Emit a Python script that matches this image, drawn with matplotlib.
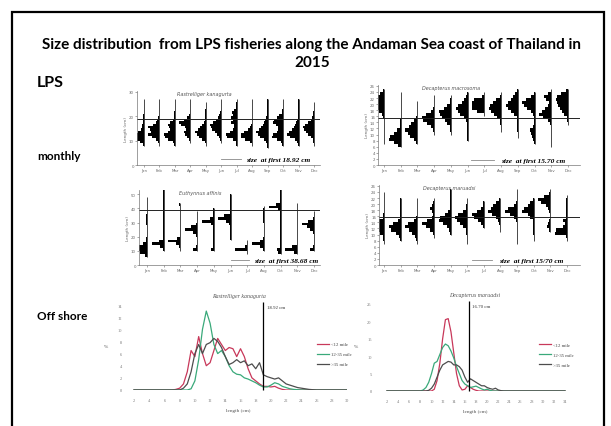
import numpy as np
import matplotlib.pyplot as plt
from matplotlib.patches import Rectangle

W, H = 611, 427
fig = plt.figure(figsize=(W / 100, H / 100), dpi=100)
fig.patch.set_facecolor('white')

months = ['Jan', 'Feb', 'Mar', 'Apr', 'May', 'Jun', 'Jul', 'Aug', 'Sep', 'Oct', 'Nov', 'Dec']
months_euth = ['Jan', 'Feb', 'Mar', 'Apr', 'May', 'Jun', 'Jul', 'Aug', 'Oct', 'Nov', 'Dec']

# monthly length frequencies (relative), Rastrelliger kanagurta, 1 cm bins from 7 cm
rk_bins = list(range(7, 27))
rk_month = [
    [0, 1, 4, 8, 10, 8, 5, 3, 2, 2, 1, 1, .5, .5, .3, .3, .2, .2, .2, .1],
    [0, .2, 1, 3, 6, 9, 7, 8, 9, 5, 3, 2, 1, .5, .5, .3, .2, .2, .2, .1],
    [0, .5, 2, 6, 9, 10, 6, 4, 5, 6, 4, 2, 1, .5, .5, .3, .3, .2, .2, .1],
    [0, 0, .5, 1, 3, 5, 6, 4, 5, 8, 10, 6, 3, 1, .5, .3, .3, .2, .2, .1],
    [0, .2, 1, 3, 6, 8, 10, 7, 5, 3, 2, 1, .5, .5, .3, .3, .2, .2, .1, 0],
    [0, 0, .5, 1, 2, 4, 6, 8, 9, 10, 7, 5, 3, 2, 1, .5, .5, .3, .2, .1],
    [0, .2, 1, 3, 9, 10, 6, 3, 2, 2, 5, 3, 5, 3, 4, 2, 1, .3, .2, .1],
    [0, .5, 2, 6, 10, 10, 7, 4, 2, 1, .5, .5, .3, .3, .2, .2, .2, .1, .1, .1],
    [.2, .5, 1, 3, 6, 8, 9, 7, 5, 4, 3, 2, 1, .5, .5, .3, .2, .2, .2, .1],
    [0, .5, 2, 5, 9, 8, 5, 4, 4, 6, 8, 7, 5, 3, 1, .5, .3, .2, .2, .1],
    [0, .2, 1, 3, 8, 10, 9, 6, 4, 3, 2, 1, .5, .3, .3, .2, .2, .2, .1, .1],
    [0, .2, .5, 1, 3, 5, 7, 9, 10, 8, 5, 3, 2, 1, .5, .3, .2, .2, .1, 0],
]

# Decapterus macrosoma, 1 cm bins from 5 cm
dm_bins = list(range(5, 25))
dm_month = [
    [0, 0, .3, .3, .3, .2, .2, .2, .2, .2, .5, 2, 4, 6, 7, 9, 10, 6, 3, 1],
    [0, 2, 6, 10, 9, 6, 3, 1, .3, .3, .2, .2, .2, .2, .2, .2, .2, .2, .1, 0],
    [0, 0, 1, 3, 6, 8, 10, 7, 5, 3, 1, .5, .3, .2, .2, .2, 0, 0, 0, 0],
    [0, 0, 0, 0, 0, .3, 1, 3, 6, 9, 10, 7, 3, 1, .5, .3, .2, .2, 0, 0],
    [0, 0, 0, 0, 0, .2, .5, 1, 3, 5, 7, 9, 10, 6, 3, 1, .5, .3, 0, 0],
    [0, 0, 0, .2, .2, .2, .2, .3, .5, 1, 3, 6, 8, 10, 8, 5, 3, 1, .5, 0],
    [0, 0, 0, 0, 0, 0, 0, 0, 0, 0, 0, .5, 6, 10, 10, 10, 9, 2, .3, 0],
    [0, 0, 0, 0, 0, 0, .2, .3, .5, 1, 3, 6, 8, 10, 9, 7, 4, 1, .3, 0],
    [0, 0, 0, 0, .2, .2, .3, .3, .3, .5, 1, 3, 6, 8, 10, 8, 6, 4, 2, .5],
    [0, 0, .5, 1, 2, 3, 4, 1, .5, .3, .5, 1, 3, 6, 9, 10, 7, 3, .5, 0],
    [0, .2, .2, .2, .3, .3, .3, .5, 1, 3, 7, 10, 8, 5, 3, 2, 4, 6, 3, .5],
    [0, 0, 0, 0, 0, 0, 0, 0, .3, .5, 1, 3, 5, 7, 8, 9, 10, 9, 6, 2],
]

# Euthynnus affinis, 2 cm bins from 6 cm
ea_bins = list(range(6, 54, 2))
ea_month = [
    [2, 6, 10, 7, 3, 1, .5, .3, .3, .3, .3, .5, .5, .5, .5, .3, 0, 0, 0, 0, .2, 0, 0, 0],
    [0, 0, .5, 3, 10, 4, .5, .3, .5, .5, .3, .3, .3, .3, .2, .2, .2, .2, .2, .2, .2, .2, .2, .2],
    [0, 0, .3, 1, 4, 10, 3, .5, .3, .3, .3, .3, .5, .3, .3, .3, .5, .5, 1, 0, 0, 0, 0, 0],
    [0, 0, 3, 1, .3, .3, .3, .5, 3, 8, 4, .5, .3, .3, .3, .2, 0, 0, 0, 0, 0, 0, 0, 0],
    [0, 0, 2, .5, .5, .3, 1, .5, 1, .3, .3, 2, 10, 3, .5, .3, .3, 0, 0, 0, 0, 0, 0, 0],
    [0, 0, 0, 0, 0, 0, .3, .3, .3, .3, .5, 1, 4, 10, 5, .3, .3, .3, .5, .5, .3, .3, 0, 0],
    [0, .5, 10, 2, .5, .3, 0, 0, 0, 0, 0, 0, 0, 0, 0, 0, 0, 0, 0, 0, 0, 0, 0, 0],
    [0, 0, .5, 3, 10, 3, .5, .3, .3, .3, .3, .3, .5, 1, 1, .5, .5, .3, 0, 0, 0, 0, 0, 0],
    [0, 2, 3, .3, .3, .5, .5, .3, .5, .3, .3, .3, .3, .3, .3, .5, 2, 10, 4, .5, .3, .3, .3, .3],
    [0, 3, 10, 4, .5, .3, .3, .3, .3, .3, .3, .3, .3, .3, .3, .3, .3, .3, .2, 0, 0, 0, 0, 0],
    [0, 0, 3, .5, .3, .3, .3, .3, 1, 3, 6, 10, 5, 1, .3, .3, 0, 0, 0, 0, 0, 0, 0, 0],
]

# Decapterus maruadsi, 1 cm bins from 6 cm
dr_bins = list(range(6, 26))
dr_month = [
    [0, .2, .5, 1, 3, 7, 10, 8, 4, 1, .5, .3, .3, .3, .3, .3, .3, .3, 0, 0],
    [0, 0, .3, 1, 4, 8, 10, 6, 2, .5, .3, .2, .2, .2, .2, .2, 0, 0, 0, 0],
    [0, .3, 1, 2, 4, 7, 10, 8, 3, 1, .5, .3, .3, .2, .2, .2, 0, 0, 0, 0],
    [0, 0, 0, .3, 1, 3, 7, 10, 6, 2, 1, 2, 3, 2, 1, .3, 0, 0, 0, 0],
    [0, 0, 0, 0, .3, 1, 3, 6, 10, 9, 5, 2, .5, .3, .3, .2, .2, .2, .2, 0],
    [0, .2, .3, .3, .5, 1, 3, 5, 7, 8, 6, 3, 1, .5, .3, .2, 0, 0, 0, 0],
    [0, 0, 0, 0, 0, 0, .5, 2, 5, 8, 10, 6, 2, .5, .3, 0, 0, 0, 0, 0],
    [0, 0, 0, 0, 0, .3, .5, 1, 2, 4, 7, 10, 8, 6, 4, 1, 0, 0, 0, 0],
    [0, .2, .2, .2, .2, .2, .3, .5, 1, 3, 6, 10, 8, 3, 1, .3, .2, .2, .2, 0],
    [0, 0, .2, .2, .3, .3, .3, .5, 1, 3, 5, 10, 8, 5, 3, 1, 0, 0, 0, 0],
    [0, 0, 0, 0, 0, 1, 3, 2, 1, .5, .5, 1, 2, 4, 8, 10, 5, 1, .3, 0],
    [0, 0, .3, .5, 10, 9, 3, 2, 3, 1, .5, .5, .5, .5, .5, .5, .3, 0, 0, 0],
]

# off shore length distributions (%)
zones = ['<12 mile', '12-35 mile', '>35 mile']
rk_len = [2, 4, 6, 7, 7.5, 8, 8.5, 9, 9.5, 10, 10.5, 11, 11.5, 12, 12.5, 13, 13.5, 14, 14.5,
          15, 15.5, 16, 16.5, 17, 17.5, 18, 18.5, 19, 19.5, 20, 20.5, 21, 21.5, 22, 22.5,
          23, 23.5, 24, 24.5, 25, 26, 28, 30]
rk_pct = [
    [0, 0, 0, 0, .1, .3, 1.0, 3.0, 6.5, 5.5, 8.8, 6.0, 4.0, 4.5, 6.5, 8.5, 7.5, 6.5, 7.0,
     6.8, 5.5, 6.8, 5.5, 3.5, 2.0, 1.5, 1.0, .6, .6, .5, .6, .3, .1, 0, 0,
     0, 0, 0, 0, 0, 0, 0, 0],
    [0, 0, 0, 0, 0, 0, 0, 0, .2, 1.5, 5.0, 10.0, 13.0, 11.0, 7.5, 6.0, 6.5, 5.5, 4.0,
     3.0, 2.6, 2.5, 2.0, 1.8, 1.5, 1.2, .8, .5, .5, .8, 1.2, 1.0, .6, .4, .2,
     .1, .05, 0, 0, 0, 0, 0, 0],
    [0, 0, 0, 0, 0, 0, .3, 1.0, 3.0, 6.0, 7.5, 6.0, 7.5, 7.8, 8.5, 8.0, 7.0, 5.5, 4.2,
     4.5, 5.0, 4.5, 4.8, 4.0, 4.3, 3.5, 4.5, 2.5, 2.2, 2.0, 1.8, 2.0, 1.5, 1.0, .8,
     .6, .4, .3, .2, .1, 0, 0, 0],
]
dr_len = [2, 4, 6, 8, 8.5, 9, 9.5, 10, 10.5, 11, 11.5, 12, 12.5, 13, 13.5, 14, 14.5, 15,
          15.5, 16, 16.5, 17, 17.5, 18, 18.5, 19, 19.5, 20, 20.5, 21, 21.5, 22, 22.5, 23,
          24, 26, 28, 30, 32, 34]
dr_pct = [
    [0, 0, 0, 0, 0, 0, 0, 0, .5, 3, 8, 15, 20.5, 20.8, 17, 11, 5, 1.5,
     .3, .5, 1.5, 1.0, .5, .2, 0, 0, 0, 0, 0, 0, 0, 0, 0, 0,
     0, 0, 0, 0, 0, 0],
    [0, 0, 0, 0, .3, 1, 2.5, 5, 8, 8.5, 10.5, 12.5, 13.5, 13.0, 11.5, 9.5, 7, 5,
     3, 2, 1.5, 1.0, 1.2, 1.4, 1.0, .6, .3, .5, .2, 0, 0, 0, 0, 0,
     0, 0, 0, 0, 0, 0],
    [0, 0, 0, 0, 0, 0, .2, .8, 2, 4, 6, 7.5, 8, 8.5, 8.3, 7.5, 7.5, 7,
     6, 4, 2.5, 3.5, 3, 2.5, 2, 1.5, 1.5, 1, .7, .5, .8, .3, .1, 0,
     0, 0, 0, 0, 0, 0],
]
zone_colors = ['#c8385a', '#3aa97a', '#4d4d4d']

serif = 'Liberation Serif'
bold_font = 'Lato'


def box(x0, y0, x1, y1):
    return fig.add_axes([x0 / W, 1 - y1 / H, (x1 - x0) / W, (y1 - y0) / H])


def ftext(x, y, s, **kw):
    fig.text(x / W, 1 - y / H, s, **kw)


def monthly(ax, labels, bins, data, step, xlim, ylim, yticks, size_at, title, leg):
    for i, counts in enumerate(data):
        c = np.array(counts, float)
        w = c / c.max() * 0.72
        y = np.array(bins, float)
        ax.barh(y, w, height=step, left=i + 1 - w, align='edge', color='black', linewidth=0)
        nz = np.nonzero(c)[0]
        ax.vlines(i + 1, y[nz[0]], y[nz[-1]] + step, color='black', lw=0.5)
    ax.axhline(size_at, color='#222222', lw=0.7)
    ax.set_xlim(*xlim)
    ax.set_ylim(*ylim)
    ax.set_yticks(yticks)
    ax.set_xticks(range(1, len(labels) + 1))
    ax.set_xticklabels(labels)
    ax.tick_params(labelsize=2.8, colors='#666666', length=1.2, width=0.4, pad=1)
    for s in ['top', 'right']:
        ax.spines[s].set_visible(False)
    for s in ['left', 'bottom']:
        ax.spines[s].set_linewidth(0.5)
        ax.spines[s].set_color('#777777')
    ax.set_ylabel('Length (cm)', fontsize=3, color='#666666', labelpad=1)
    ax.text(0.22, 0.97, title, transform=ax.transAxes, fontsize=3.5, style='italic',
            color='#555555', va='center', ha='left')
    ax.plot(leg[0], [leg[2], leg[2]], color='#888888', lw=0.6, clip_on=False)
    ax.text(leg[1], leg[2], 'size  at first %s cm' % leg[3], fontsize=5.3, family=serif,
            style='italic', weight='bold', va='center', ha='left')
    ax.patch.set_alpha(0)


def offshore(ax, lengths, pct, xlim, ylim, yticks, xticks, size_at, size_txt, title):
    for vals, lab, col in zip(pct, zones, zone_colors):
        ax.plot(lengths, vals, color=col, lw=0.9, label=lab)
    ax.vlines(size_at, 0, ylim[1] * 1.03, color='black', lw=0.9, clip_on=False)
    ax.text(size_at + 0.5, ylim[1] * 0.97, size_txt, fontsize=3.5, family=serif, color='#333333')
    ax.set_xlim(*xlim)
    ax.set_ylim(*ylim)
    ax.set_yticks(yticks)
    ax.set_xticks(xticks)
    ax.tick_params(labelsize=3.2, colors='#777777', length=0, pad=6)
    for lab in ax.get_xticklabels() + ax.get_yticklabels():
        lab.set_family(serif)
    for s in ax.spines.values():
        s.set_visible(False)
    ax.set_xlabel('length (cm)', fontsize=3.8, family=serif, color='#555555', labelpad=4)
    ax.set_ylabel('%', fontsize=3.8, family=serif, color='#555555', rotation=0, labelpad=8)
    ax.set_title(title, fontsize=4.2, style='italic', family=serif, color='#555555', pad=6)
    lg = ax.legend(loc='center right', bbox_to_anchor=(1.04, 0.42), frameon=False,
                   fontsize=3.4, handlelength=2.6, labelspacing=1.2, handletextpad=0.4)
    for t in lg.get_texts():
        t.set_family(serif)
        t.set_color('#444444')
    ax.patch.set_alpha(0)


# outer slide frame
fig.add_artist(Rectangle((12 / W, -0.1), (604 - 12) / W, 1.1 - 13 / H, transform=fig.transFigure,
                         fill=False, edgecolor='black', lw=1.6))

ftext(312, 45, 'Size distribution  from LPS fisheries along the Andaman Sea coast of Thailand in',
      ha='center', va='center', fontsize=11, weight='bold', family=bold_font)
ftext(312, 63, '2015', ha='center', va='center', fontsize=11, weight='bold', family=bold_font)
ftext(37, 83, 'LPS', ha='left', va='center', fontsize=11.5, weight='bold', family=bold_font)
ftext(37, 157, 'monthly', ha='left', va='center', fontsize=8.5, weight='bold', family=bold_font)
ftext(37, 317, 'Off shore', ha='left', va='center', fontsize=8.5, weight='bold', family=bold_font)

ax1 = box(137, 92, 320, 166)
monthly(ax1, months, rk_bins, rk_month, 1, (0.55, 12.39), (0, 30.4), [0, 10, 20, 30], 18.92,
        'Rastrelliger kanagurta', ([6.0, 7.3], 7.6, 2.3, '18.92'))

ax2 = box(378, 86, 580, 166)
monthly(ax2, months, dm_bins, dm_month, 1, (0.64, 12.72), (0, 26.3), list(range(0, 27, 2)), 15.3,
        'Decapterus macrosoma', ([6.2, 7.6], 8.0, 1.5, '15.70'))

ax3 = box(139, 191, 320, 266)
monthly(ax3, months_euth, ea_bins, ea_month, 2, (0.52, 11.36), (0, 53), [0, 10, 20, 30, 40, 50], 38.68,
        'Euthynnus affinis', ([6.0, 7.1], 7.4, 3.5, '38.68'))

ax4 = box(379, 186, 580, 266)
monthly(ax4, months, dr_bins, dr_month, 1, (0.7, 12.78), (0, 26.3), list(range(0, 27, 2)), 15.70,
        'Decapterus maruadsi', ([6.3, 7.5], 7.9, 1.5, '15/70'))

ax5 = box(130, 306, 347, 391)
offshore(ax5, rk_len, rk_pct, (1.47, 30.0), (0, 14), list(range(0, 15, 2)), list(range(2, 31, 2)),
         18.92, '18.92 cm', 'Rastrelliger kanagurta')

ax6 = box(380, 305, 570, 392)
offshore(ax6, dr_len, dr_pct, (0.74, 34.9), (0, 25), [0, 5, 10, 15, 20, 25], list(range(2, 35, 2)),
         16.70, '16.70 cm', 'Decapterus maruadsi')

fig.savefig('out.png', dpi=100)
